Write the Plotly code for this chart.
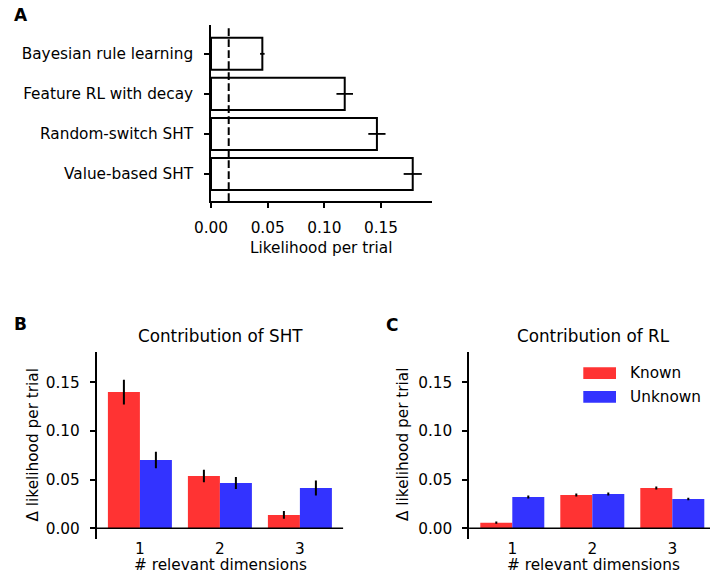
import plotly.graph_objects as go

# ---------------- data ----------------
models = ["Bayesian rule learning", "Feature RL with decay", "Random-switch SHT", "Value-based SHT"]
lik = [0.0453, 0.118, 0.1464, 0.178]
lik_err = [0.002, 0.0073, 0.0076, 0.008]
chance = 1 / 64
a_xticks = [0.0, 0.05, 0.10, 0.15]

dims = ["1", "2", "3"]
sht_known = [0.140, 0.0538, 0.0137]
sht_known_err = [0.0128, 0.0064, 0.004]
sht_unknown = [0.0702, 0.0466, 0.0414]
sht_unknown_err = [0.0086, 0.0062, 0.0077]
rl_known = [0.0058, 0.0342, 0.0414]
rl_known_err = [0.0012, 0.0015, 0.0015]
rl_unknown = [0.0322, 0.0353, 0.0301]
rl_unknown_err = [0.0015, 0.0015, 0.0012]
bc_yticks = [0.0, 0.05, 0.10, 0.15]

RED = "#FF3333"
BLUE = "#3333FF"
FONT = "DejaVu Sans"
FS = 15.3
W, H = 710, 575

def px(x):
    return x / W

def py(y):
    return 1 - y / H

pos = list(range(len(dims)))
fig = go.Figure()

# Panel A
fig.add_trace(go.Bar(
    y=list(range(len(models))), x=lik, orientation="h",
    marker=dict(color="white", line=dict(color="black", width=2)),
    error_x=dict(type="data", array=lik_err, color="black", thickness=1.8, width=0),
    xaxis="x", yaxis="y", showlegend=False,
))

# Panel B
fig.add_trace(go.Bar(x=pos, y=sht_known, name="Known", marker=dict(color=RED, line=dict(width=0)),
                     error_y=dict(type="data", array=sht_known_err, color="black", thickness=2, width=0),
                     xaxis="x2", yaxis="y2", showlegend=False))
fig.add_trace(go.Bar(x=pos, y=sht_unknown, name="Unknown", marker=dict(color=BLUE, line=dict(width=0)),
                     error_y=dict(type="data", array=sht_unknown_err, color="black", thickness=2, width=0),
                     xaxis="x2", yaxis="y2", showlegend=False))
# Panel C
fig.add_trace(go.Bar(x=pos, y=rl_known, name="Known", marker=dict(color=RED, line=dict(width=0)),
                     error_y=dict(type="data", array=rl_known_err, color="black", thickness=2, width=0),
                     xaxis="x3", yaxis="y3", showlegend=False))
fig.add_trace(go.Bar(x=pos, y=rl_unknown, name="Unknown", marker=dict(color=BLUE, line=dict(width=0)),
                     error_y=dict(type="data", array=rl_unknown_err, color="black", thickness=2, width=0),
                     xaxis="x3", yaxis="y3", showlegend=False))

axis_common = dict(showgrid=False, zeroline=False, linecolor="black", linewidth=1.6,
                   tickcolor="black", tickwidth=1.6, ticklen=5, automargin=False,
                   tickfont=dict(family=FONT, size=FS, color="black"))

a_xmax = (432 - 211) / 1133.3
fig.update_layout(
    template="none",
    width=W, height=H, margin=dict(l=0, r=0, t=0, b=0, autoexpand=False),
    paper_bgcolor="white", plot_bgcolor="white",
    barmode="group", bargap=0.2, bargroupgap=0,
    font=dict(family=FONT, size=FS, color="black"),
    xaxis=dict(domain=[px(211), px(432)], anchor="y", range=[0, a_xmax],
               tickvals=a_xticks, ticktext=[f"{v:.2f}" for v in a_xticks],
               showline=True, ticks="outside", ticklabelstandoff=7, **axis_common),
    yaxis=dict(domain=[py(201), py(25)], anchor="x", range=[3.675, -0.72],
               tickvals=list(range(len(models))), ticktext=models,
               showline=True, ticks="outside", ticklabelstandoff=8, **axis_common),
    xaxis2=dict(domain=[px(96.7), px(343.1)], anchor="y2", range=[-0.54, 2.54],
                tickvals=pos, ticktext=dims, ticklabelstandoff=-2,
                showline=False, ticks="", **axis_common),
    yaxis2=dict(domain=[py(539.3), py(351.7)], anchor="x2", range=[-0.0113, 0.1815],
                tickvals=bc_yticks, ticktext=[f"{v:.2f}" for v in bc_yticks],
                showline=True, ticks="outside", ticklabelstandoff=7, **axis_common),
    xaxis3=dict(domain=[px(469.1), 1.0], anchor="y3", range=[-0.54, (710 - 512.3) / 80],
                tickvals=pos, ticktext=dims, ticklabelstandoff=-2,
                showline=False, ticks="", **axis_common),
    yaxis3=dict(domain=[py(539.3), py(351.7)], anchor="x3", range=[-0.0113, 0.1815],
                tickvals=bc_yticks, ticktext=[f"{v:.2f}" for v in bc_yticks],
                showline=True, ticks="outside", ticklabelstandoff=7, **axis_common),
)

shapes = [
    dict(type="line", xref="x", yref="y domain", x0=chance, x1=chance, y0=0, y1=1,
         line=dict(color="black", width=2, dash="7.7px,3.3px")),
    dict(type="line", xref="x2 domain", yref="y2", x0=0, x1=1, y0=0, y1=0,
         line=dict(color="black", width=1.6)),
    dict(type="line", xref="x3 domain", yref="y3", x0=0, x1=1, y0=0, y1=0,
         line=dict(color="black", width=1.6)),
    # legend patches
    dict(type="rect", xref="paper", yref="paper", x0=px(583.3), x1=px(616), y0=py(379), y1=py(367.3),
         fillcolor=RED, line=dict(width=0)),
    dict(type="rect", xref="paper", yref="paper", x0=px(583.3), x1=px(616), y0=py(402.7), y1=py(391),
         fillcolor=BLUE, line=dict(width=0)),
]
fig.update_layout(shapes=shapes)

def ann(text, x, y, size=FS, xanchor="center", bold=False, angle=0):
    return dict(text=f"<b>{text}</b>" if bold else text, x=px(x), y=py(y), xref="paper", yref="paper",
                xanchor=xanchor, yanchor="middle", showarrow=False, textangle=angle,
                font=dict(family=FONT, size=size, color="black"))

annotations = [
    ann("A", 20.8, 14.5, size=17, bold=True),
    ann("B", 20.3, 324, size=17, bold=True),
    ann("C", 392, 325, size=17, bold=True),
    ann("Likelihood per trial", 320.8, 248),
    ann("Contribution of SHT", 220.8, 335.5, size=16.8),
    ann("Contribution of RL", 593, 335.5, size=16.8),
    ann("# relevant dimensions", 221, 565),
    ann("# relevant dimensions", 593.3, 565),
    ann("Δ likelihood per trial", 32.5, 445, angle=-90),
    ann("Δ likelihood per trial", 403, 445, angle=-90),
    ann("Known", 628, 373, xanchor="left"),
    ann("Unknown", 628, 397, xanchor="left"),
]
fig.update_layout(annotations=annotations)

fig.write_html("out.html", config={"displayModeBar": False},
               post_script="document.body.style.margin='0';document.body.style.overflow='hidden';")
